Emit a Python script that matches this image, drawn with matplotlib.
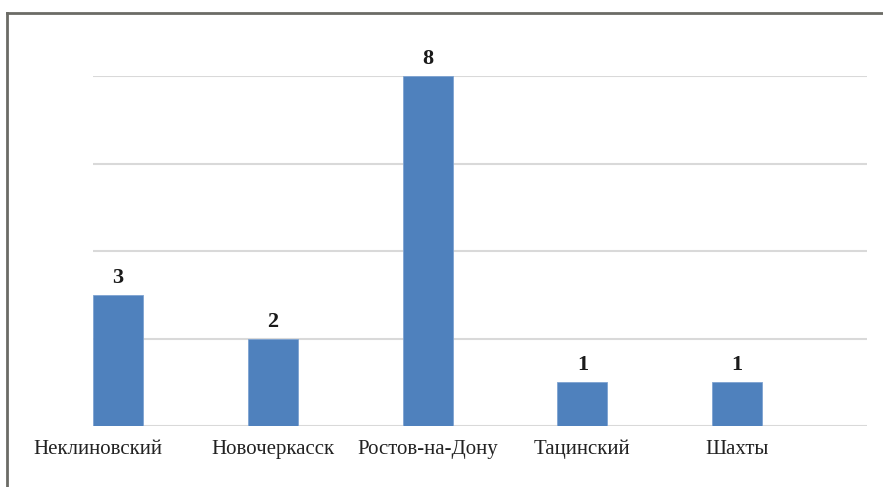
import numpy as np
import matplotlib.pyplot as plt
import matplotlib.transforms as mtransforms
from matplotlib.lines import Line2D

cities = ['Неклиновский', 'Новочеркасск', 'Ростов-на-Дону', 'Тацинский', 'Шахты']
counts = [3, 2, 8, 1, 1]
grid_vals = [0, 2, 4, 6, 8]

plt.rcParams['font.family'] = ['Liberation Serif', 'DejaVu Serif']

fig = plt.figure(figsize=(8.83, 4.87), dpi=100)
ax = fig.add_axes([93/883, 1 - 426/487, (867 - 93)/883, (426 - 76)/487])

x = np.arange(len(cities))
w = 0.323
bars = ax.bar(x, counts, width=w, align='edge', color='#4f81bd',
              edgecolor='#7ea3d2', linewidth=0.6, zorder=3)

for v in grid_vals:
    ax.axhline(v, color='#d9d9d9', linewidth=1.5, zorder=1)

for b, v in zip(bars, counts):
    ax.annotate(str(v), (b.get_x() + b.get_width()/2, v), xytext=(0, 5),
                textcoords='offset points', ha='center', va='bottom',
                fontsize=16, fontweight='bold', color='#1a1a1a')

ax.set_xlim(0, len(cities))
ax.set_ylim(0, 8)
ax.set_xticks(x + w/2)
ax.set_xticklabels(cities, fontsize=15, color='#222222')
ax.tick_params(axis='x', length=0, pad=10)
ax.set_yticks([])
for s in ax.spines.values():
    s.set_visible(False)

# first label sits a bit left of its bar in the original
lbl = ax.get_xticklabels()[0]
lbl.set_transform(lbl.get_transform() + mtransforms.ScaledTranslation(-0.2, 0, fig.dpi_scale_trans))

# frame around the chart (left and top edges)
fig.add_artist(Line2D([7/883, 7/883], [0, 1 - 13/487], transform=fig.transFigure,
                      color='#6b6b66', linewidth=2))
fig.add_artist(Line2D([7/883, 1], [1 - 13/487, 1 - 13/487], transform=fig.transFigure,
                      color='#6b6b66', linewidth=2))

fig.savefig('out.png', dpi=100)
